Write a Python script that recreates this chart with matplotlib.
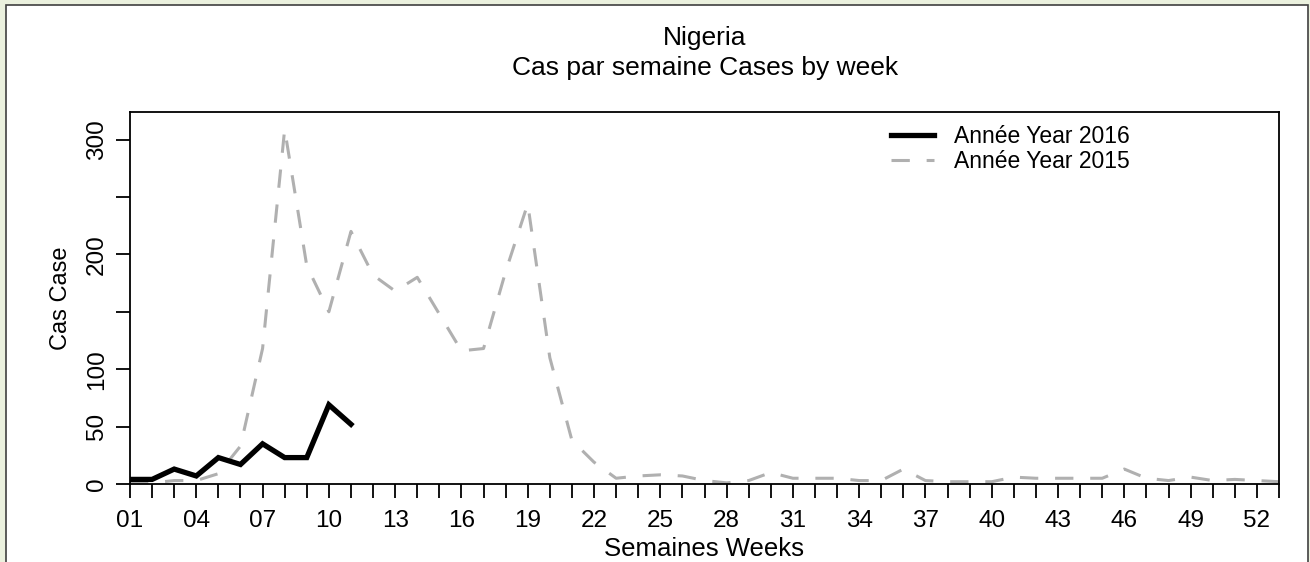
import matplotlib
matplotlib.use('Agg')
import matplotlib.pyplot as plt
from matplotlib.patches import Rectangle

plt.rcParams['font.family'] = ['Liberation Sans', 'DejaVu Sans']

# weekly cases
weeks_2016 = list(range(1, 12))
cases_2016 = [4, 4, 13, 7, 23, 17, 35, 23, 23, 69, 52]

weeks_2015 = list(range(1, 54))
cases_2015 = [1, 1, 3, 3, 9, 33, 118, 309, 190, 150,
              220, 182, 168, 180, 148, 116, 118, 185, 244, 110,
              38, 19, 5, 7, 8, 7, 3, 1, 3, 10,
              5, 5, 5, 3, 3, 13, 3, 2, 2, 2,
              6, 5, 5, 5, 5, 13, 5, 3, 6, 3,
              4, 3, 2]

ytick_vals = [0, 50, 100, 150, 200, 250, 300]
ytick_text = ['0', '50', '100', '', '200', '', '300']

fig = plt.figure(figsize=(13.1, 5.62), dpi=100)
fig.patch.set_facecolor('#ebf1de')
# white panel with a dark border
fig.patches.append(Rectangle((6 / 1310, -0.05), 1302 / 1310, 1.05 - 5 / 562,
                             transform=fig.transFigure, facecolor='white',
                             edgecolor='#404040', linewidth=1.2, zorder=-10))

ax = fig.add_axes([130 / 1310, 1 - 484 / 562, 1149 / 1310, 372 / 562])
ax.set_facecolor('white')
ax.plot(weeks_2016, cases_2016, color='black', linewidth=3.8,
        solid_joinstyle='miter', label='Année Year 2016', zorder=3)
ax.plot(weeks_2015, cases_2015, color='#b0b0b0', linewidth=2.2,
        dashes=(6, 5.5), label='Année Year 2015', zorder=2)

ax.set_xlim(1, 53)
ax.set_ylim(0, 324)
ax.set_xticks(range(1, 54))
ax.set_xticklabels([('%02d' % w) if (w - 1) % 3 == 0 and w <= 52 else '' for w in range(1, 54)])
ax.set_yticks(ytick_vals)
ax.set_yticklabels(ytick_text, rotation=90, va='center')
ax.tick_params(axis='both', direction='out', length=10, width=1.3, labelsize=17.5)
ax.tick_params(axis='x', pad=9)
ax.tick_params(axis='y', pad=6)
for s in ax.spines.values():
    s.set_linewidth(1.3)

ax.set_xlabel('Semaines Weeks', fontsize=18.5, labelpad=3)
ax.set_ylabel('Cas Case', fontsize=17, labelpad=10)

fig.text(705 / 1310, 1 - 38 / 562, 'Nigeria', ha='center', va='center', fontsize=19)
fig.text(705 / 1310, 1 - 68 / 562, 'Cas par semaine Cases by week', ha='center', va='center', fontsize=19)

ax.legend(loc='upper left', bbox_to_anchor=(740 / 1149, 1.02), frameon=False,
          fontsize=16.5, handlelength=1.9, handletextpad=0.85, labelspacing=0.1)

fig.savefig('out.png', dpi=100, facecolor=fig.get_facecolor())
